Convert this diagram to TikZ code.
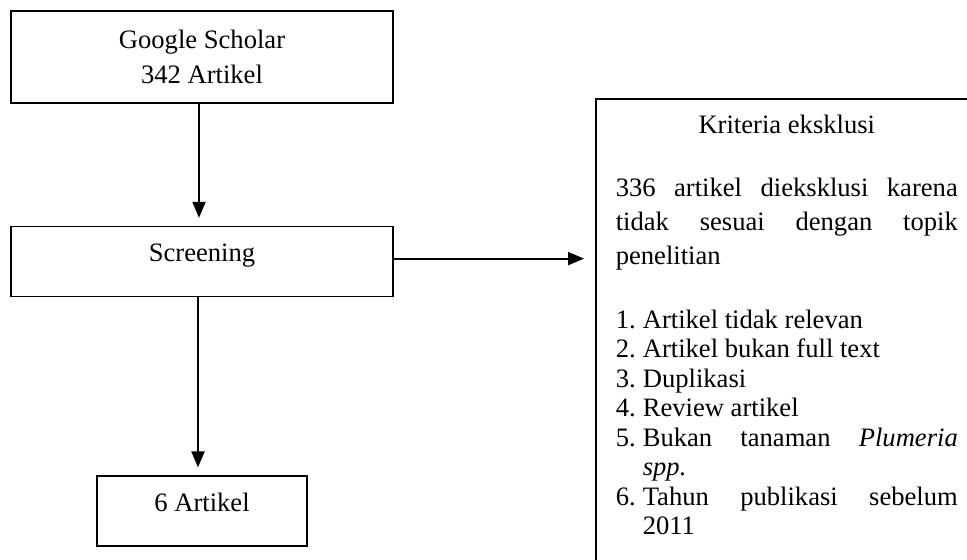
\documentclass[tikz,border=0pt]{standalone}
\usepackage{fontspec}
\setmainfont{Liberation Serif}
\usetikzlibrary{arrows.meta, positioning}

\tikzset{
  flowbox/.style={draw, line width=0.8pt, minimum width=191pt, align=center,
    font=\fontsize{13.3}{17.5}\selectfont},
  onebox/.style={flowbox, minimum height=35pt, text height=9pt, text depth=9pt},
  flowline/.style={-{Triangle[length=8pt,width=6.5pt]}, line width=1pt, shorten >=4pt},
}

\begin{document}
\begin{tikzpicture}
    \useasboundingbox (0,0) rectangle (483.5pt,-279.5pt);
    \node [flowbox, minimum height=46pt] (gs) at (101pt,-28.5pt) {Google Scholar\\342 Artikel};
    \node [onebox, below=61pt of gs] (screen) {Screening};
    \draw [flowline] ([xshift=-1.5pt]gs.south) -- ([xshift=-1.5pt]screen.north);
    \node [onebox, minimum width=105pt, below=89pt of screen] (hasil) {6 Artikel};
    \draw [flowline] ([xshift=-2pt]screen.south) -- ([xshift=-2pt]hasil.north);
    \node [draw, line width=0.8pt, anchor=north west, inner xsep=10pt, inner ysep=8pt,
      font=\fontsize{13.3}{14.75}\selectfont] (krit) at (297.5pt,-49pt)
      {\parbox[t][235pt][t]{171pt}{%
        \makebox[171pt]{Kriteria eksklusi}\\[16.75pt]
        \makebox[171pt][s]{336 artikel dieksklusi karena}\\[2.25pt]
        \makebox[171pt][s]{tidak sesuai dengan topik}\\[2.25pt]
        penelitian\\[17.25pt]
        \makebox[13.5pt][l]{1.}Artikel tidak relevan\\
        \makebox[13.5pt][l]{2.}Artikel bukan full text\\
        \makebox[13.5pt][l]{3.}Duplikasi\\
        \makebox[13.5pt][l]{4.}Review artikel\\
        \makebox[13.5pt][l]{5.}\makebox[157.5pt][s]{Bukan tanaman \textit{Plumeria}}\\
        \hspace*{13.5pt}\textit{spp.}\\
        \makebox[13.5pt][l]{6.}\makebox[157.5pt][s]{Tahun publikasi sebelum}\\
        \hspace*{13.5pt}2011}};
    \draw [flowline, shorten >=5.5pt] ([yshift=1.5pt]screen.east) -- ([yshift=1.5pt]screen.east -| krit.west);
\end{tikzpicture}
\end{document}
